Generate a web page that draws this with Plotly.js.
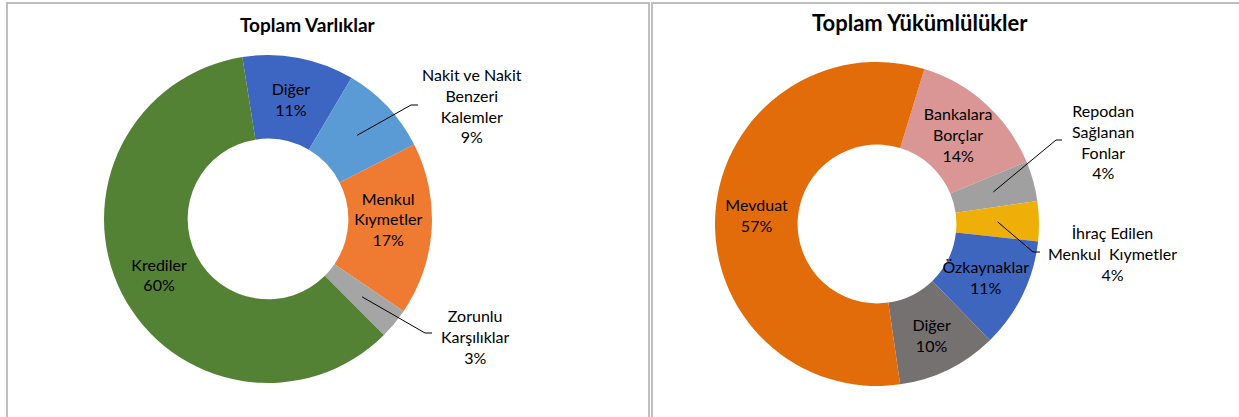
<!DOCTYPE html>
<html>
<head>
<meta charset="utf-8">
<script src="https://cdn.plot.ly/plotly-3.0.1.min.js"></script>
<style>html,body{margin:0;padding:0;background:#fff;}#chart{width:1239px;height:417px;}</style>
</head>
<body>
<div id="chart"></div>
<script>
// ---- data ----
const assetTitle = 'Toplam Varlıklar';
const assetLabels = ['Diğer', 'Nakit ve Nakit Benzeri Kalemler', 'Menkul Kıymetler', 'Zorunlu Karşılıklar', 'Krediler'];
const assetText = ['Diğer', 'Nakit ve Nakit<br>Benzeri<br>Kalemler', 'Menkul<br>Kıymetler', 'Zorunlu<br>Karşılıklar', 'Krediler'];
const assetValues = [11, 9, 17, 3, 60];
const assetColors = ['#3d66c2', '#5b9bd5', '#ef7b33', '#a5a5a5', '#548235'];
const assetInside = [true, false, true, false, true];

const liabTitle = 'Toplam Yükümlülükler';
const liabLabels = ['Bankalara Borçlar', 'Repodan Sağlanan Fonlar', 'İhraç Edilen Menkul Kıymetler', 'Özkaynaklar', 'Diğer', 'Mevduat'];
const liabText = ['Bankalara<br>Borçlar', 'Repodan<br>Sağlanan<br>Fonlar', 'İhraç Edilen<br>Menkul  Kıymetler', 'Özkaynaklar', 'Diğer', 'Mevduat'];
const liabValues = [14, 4, 4, 11, 10, 57];
const liabColors = ['#d99694', '#a0a0a0', '#eeb008', '#3e66be', '#767171', '#e36c0a'];
const liabInside = [true, false, false, true, true, true];

// ---- layout geometry (pixels) ----
const W = 1239, H = 417;
const FONT = 'Lato, "Open Sans", sans-serif';
const TXT = {family: FONT, size: 16, color: '#000'};
const px = x => x / W;
const py = y => 1 - y / H;
const L = {cx: 268, cy: 219, r: 164, hole: 0.49, rot: -9};
const R = {cx: 877, cy: 224, r: 162, hole: 0.49, rot: 17};
// outside label placement: [text centre x, y, elbow x, elbow y, tick end x]
const assetOut = {1: [472, 105, 411, 105, 418], 3: [475, 336, 425, 333, 432]};
const liabOut = {1: [1103, 141, 1056, 140, 1062], 2: [1112, 253, 1033, 252, 1040]};

function domainOf(g) {
  return {
    x: [px(g.cx - g.r), px(g.cx + g.r)],
    y: [py(g.cy + g.r), py(g.cy - g.r)]
  };
}

function pieTrace(values, labels, text, colors, inside, g) {
  return {
    type: 'pie',
    values: values,
    labels: labels,
    text: text,
    hole: g.hole,
    sort: false,
    direction: 'clockwise',
    rotation: g.rot,
    domain: domainOf(g),
    marker: {colors: colors, line: {width: 0}},
    textposition: inside.map(v => v ? 'inside' : 'none'),
    texttemplate: '%{text}<br>%{percent:.0%}',
    insidetextorientation: 'horizontal',
    insidetextfont: TXT,
    hoverinfo: 'label+percent',
    showlegend: false
  };
}

function outsideBits(values, text, g, out) {
  const total = values.reduce((a, b) => a + b, 0);
  const shapes = [], anns = [];
  let cum = 0;
  values.forEach((v, i) => {
    const mid = (g.rot + 360 * (cum + v / 2) / total) * Math.PI / 180;
    cum += v;
    if (!out[i]) return;
    const o = out[i];
    const rm = g.r * (1 + g.hole) / 2;
    const sx = g.cx + rm * Math.sin(mid), sy = g.cy - rm * Math.cos(mid);
    shapes.push({
      type: 'path', xref: 'paper', yref: 'paper',
      path: `M ${px(sx)} ${py(sy)} L ${px(o[2])} ${py(o[3])} L ${px(o[4])} ${py(o[3])}`,
      line: {color: '#000', width: 1}
    });
    anns.push({
      xref: 'paper', yref: 'paper', x: px(o[0]), y: py(o[1]),
      xanchor: 'center', yanchor: 'middle', showarrow: false, align: 'center',
      text: text[i] + '<br>' + Math.round(100 * v / total) + '%',
      font: TXT
    });
  });
  return {shapes, anns};
}

const lo = outsideBits(assetValues, assetText, L, assetOut);
const ro = outsideBits(liabValues, liabText, R, liabOut);

const borderColor = '#bfbfbf';
const shapes = [
  {type: 'rect', xref: 'paper', yref: 'paper', x0: px(7), x1: px(649), y0: py(430), y1: py(3), line: {color: borderColor, width: 2}},
  {type: 'rect', xref: 'paper', yref: 'paper', x0: px(652), x1: px(1250), y0: py(430), y1: py(3), line: {color: borderColor, width: 2}}
].concat(lo.shapes, ro.shapes);

const annotations = [
  {xref: 'paper', yref: 'paper', x: px(308), y: py(25), xanchor: 'center', yanchor: 'middle', showarrow: false,
   text: '<b>' + assetTitle + '</b>', font: {family: FONT, size: 19, color: '#000'}},
  {xref: 'paper', yref: 'paper', x: px(920), y: py(22), xanchor: 'center', yanchor: 'middle', showarrow: false,
   text: '<b>' + liabTitle + '</b>', font: {family: FONT, size: 22, color: '#000'}}
].concat(lo.anns, ro.anns);

const layout = {
  width: W, height: H,
  margin: {l: 0, r: 0, t: 0, b: 0},
  paper_bgcolor: '#fff',
  showlegend: false,
  uniformtext: {minsize: 16, mode: 'show'},
  shapes: shapes,
  annotations: annotations,
  font: {family: FONT}
};

Plotly.newPlot('chart', [
  pieTrace(assetValues, assetLabels, assetText, assetColors, assetInside, L),
  pieTrace(liabValues, liabLabels, liabText, liabColors, liabInside, R)
], layout, {displayModeBar: false, staticPlot: true});
</script>
</body>
</html>
